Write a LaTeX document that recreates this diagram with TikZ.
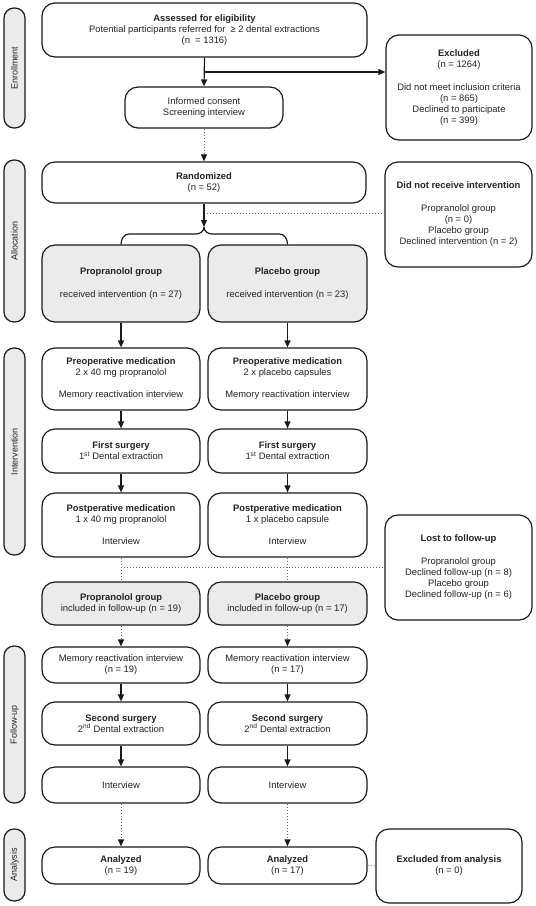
\documentclass[tikz,border=0pt]{standalone}
\usepackage{fontspec}
\setmainfont{Liberation Sans}
\usetikzlibrary{arrows.meta}
\definecolor{ln}{HTML}{1A1A1A}
\definecolor{tx}{HTML}{222222}
\definecolor{gf}{HTML}{EBEBEB}
\definecolor{dt}{HTML}{6A6A6A}
\tikzset{
  box/.style={draw=ln, line width=1.2pt, rounded corners=13pt, align=center, inner sep=0pt,
    text=tx, font=\fontsize{9.4}{11}\selectfont},
  gbox/.style={box, fill=gf},
  side/.style={draw=ln, line width=1.2pt, fill=gf, rounded corners=10pt, rotate=90, inner sep=0pt,
    minimum height=21pt, text=tx, font=\fontsize{9}{11}\selectfont},
  arr/.style={draw=ln, line width=1.2pt, -{Triangle[length=7pt,width=6pt]}},
  ln/.style={draw=ln, line width=1.2pt},
  dot/.style={draw=dt, line width=1pt, dash pattern=on 1pt off 2pt},
  darr/.style={dot, -{Triangle[length=7pt,width=6pt,fill=ln,color=ln]}},
}
\begin{document}
\begin{tikzpicture}[x=1pt,y=-1pt]
\useasboundingbox (0,0) rectangle (536,906);
% side labels
\node[side, minimum width=120pt] (s1) at (14.5,68) {Enrollment};
\node[side, minimum width=162pt] (s2) at (14.5,241) {Allocation};
\node[side, minimum width=207pt] (s3) at (14.5,451.5) {Intervention};
\node[side, minimum width=157pt] (s4) at (14.5,724.5) {Follow-up};
\node[side, minimum width=72pt] (s5) at (14.5,865) {Analysis};
% enrollment
\node[box, minimum width=325pt, minimum height=54pt] (ass) at (204.5,30)
  {\textbf{Assessed for eligibility}\\Potential participants referred for \ ≥ 2 dental extractions\\(n \ = 1316)};
\node[box, minimum width=158pt, minimum height=41pt] (inf) at (204,107.5)
  {Informed consent\\Screening interview};
\node[box, minimum width=146pt, minimum height=105pt] (exc) at (459,87.5)
  {\textbf{Excluded}\\(n = 1264)\\[12pt]Did not meet inclusion criteria\\(n = 865)\\Declined to participate\\(n = 399)};
\node[box, minimum width=324pt, minimum height=41pt] (ran) at (204,182.5)
  {\textbf{Randomized}\\(n = 52)};
\node[box, minimum width=147pt, minimum height=105pt] (dnr) at (458.5,214.5)
  {\textbf{Did not receive intervention}\\[12pt]Propranolol group\\(n = 0)\\Placebo group\\Declined intervention (n = 2)};
% allocation
\node[gbox, minimum width=158pt, minimum height=77pt] (pgA) at (121,283.5)
  {\textbf{Propranolol group}\\[12pt]received intervention (n = 27)};
\node[gbox, minimum width=159pt, minimum height=77pt] (plA) at (287.5,283.5)
  {\textbf{Placebo group}\\[12pt]received intervention (n = 23)};
% intervention
\node[box, minimum width=158pt, minimum height=62pt] (preL) at (121,379)
  {\textbf{Preoperative medication}\\2 x 40 mg propranolol\\[11pt]Memory reactivation interview};
\node[box, minimum width=159pt, minimum height=62pt] (preR) at (287.5,379)
  {\textbf{Preoperative medication}\\2 x placebo capsules\\[11pt]Memory reactivation interview};
\node[box, minimum width=158pt, minimum height=44pt] (fsL) at (121,451)
  {\textbf{First surgery}\\1\textsuperscript{st} Dental extraction};
\node[box, minimum width=159pt, minimum height=44pt] (fsR) at (287.5,451)
  {\textbf{First surgery}\\1\textsuperscript{st} Dental extraction};
\node[box, minimum width=158pt, minimum height=64pt] (poL) at (121,525)
  {\textbf{Postperative medication}\\1 x 40 mg propranolol\\[11pt]Interview};
\node[box, minimum width=159pt, minimum height=64pt] (poR) at (287.5,525)
  {\textbf{Postperative medication}\\1 x placebo capsule\\[11pt]Interview};
\node[box, minimum width=147pt, minimum height=105pt] (lost) at (458.5,567.5)
  {\textbf{Lost to follow-up}\\[12pt]Propranolol group\\Declined follow-up (n = 8)\\Placebo group\\Declined follow-up (n = 6)};
% follow-up
\node[gbox, minimum width=158pt, minimum height=43pt] (fgL) at (121,603.5)
  {\textbf{Propranolol group}\\included in follow-up (n = 19)};
\node[gbox, minimum width=159pt, minimum height=43pt] (fgR) at (287.5,603.5)
  {\textbf{Placebo group}\\included in follow-up (n = 17)};
\node[box, minimum width=158pt, minimum height=36pt] (mrL) at (121,665)
  {Memory reactivation interview\\(n = 19)};
\node[box, minimum width=159pt, minimum height=36pt] (mrR) at (287.5,665)
  {Memory reactivation interview\\(n = 17)};
\node[box, minimum width=158pt, minimum height=43pt] (ssL) at (121,723.5)
  {\textbf{Second surgery}\\2\textsuperscript{nd} Dental extraction};
\node[box, minimum width=159pt, minimum height=43pt] (ssR) at (287.5,723.5)
  {\textbf{Second surgery}\\2\textsuperscript{nd} Dental extraction};
\node[box, minimum width=158pt, minimum height=36pt] (ivL) at (121,785)
  {Interview};
\node[box, minimum width=159pt, minimum height=36pt] (ivR) at (287.5,785)
  {Interview};
% analysis
\node[box, minimum width=158pt, minimum height=37pt] (anL) at (121,865.5)
  {\textbf{Analyzed}\\(n = 19)};
\node[box, minimum width=159pt, minimum height=37pt] (anR) at (287.5,865.5)
  {\textbf{Analyzed}\\(n = 17)};
\node[box, minimum width=146pt, minimum height=74pt] (exa) at (449,866)
  {\textbf{Excluded from analysis}\\(n = 0)};
% connectors
\coordinate (b1) at (204,72);
\draw[arr] (ass.south) -- (inf.north);
\draw[arr] (b1) -- (b1 -| exc.west);
\draw[darr] (inf.south) -- (ran.north);
\coordinate (brc) at (204,227);
\coordinate (d1) at (204,213);
\draw[dot] (d1) -- (d1 -| dnr.west);
\draw[arr] (ran.south) -- (brc);
\draw[ln] (brc) to[out=-90,in=0] (196,234) -- (129,234) to[out=180,in=90] (pgA.north);
\draw[ln] (brc) to[out=-90,in=180] (212,234) -- (279.5,234) to[out=0,in=90] (plA.north);
\draw[arr] (pgA.south) -- (preL.north);
\draw[arr] (plA.south) -- (preR.north);
\draw[arr] (preL.south) -- (fsL.north);
\draw[arr] (preR.south) -- (fsR.north);
\draw[arr] (fsL.south) -- (poL.north);
\draw[arr] (fsR.south) -- (poR.north);
\draw[dot] (poL.south) -- (fgL.north);
\draw[dot] (poR.south) -- (fgR.north);
\coordinate (d2) at (121,567);
\draw[dot] (d2) -- (d2 -| lost.west);
\draw[darr] (fgL.south) -- (mrL.north);
\draw[darr] (fgR.south) -- (mrR.north);
\draw[arr] (mrL.south) -- (ssL.north);
\draw[arr] (mrR.south) -- (ssR.north);
\draw[arr] (ssL.south) -- (ivL.north);
\draw[arr] (ssR.south) -- (ivR.north);
\draw[darr] (ivL.south) -- (anL.north);
\draw[darr] (ivR.south) -- (anR.north);
\draw[dot] (anR.east) -- (exa.west);
\end{tikzpicture}
\end{document}
